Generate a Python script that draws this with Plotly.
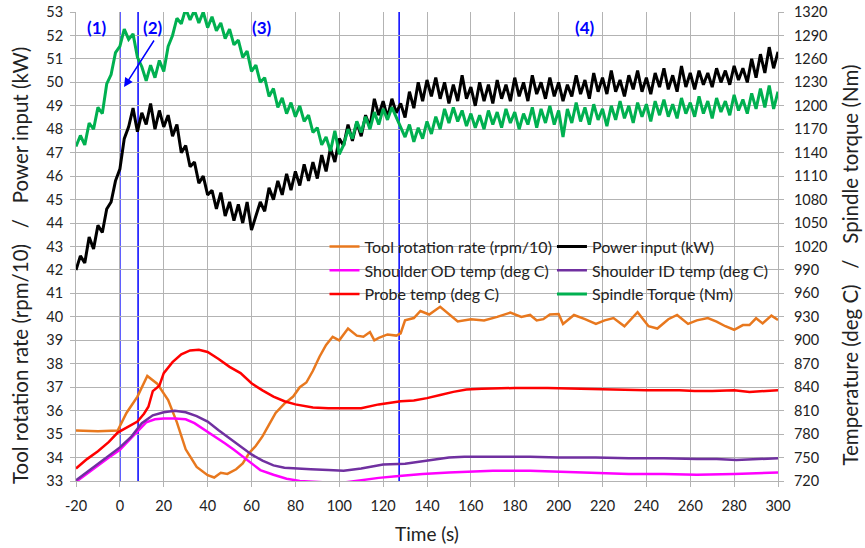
import plotly.graph_objects as go

# time base for the noisy (black / green) traces, every 2 s
t_noisy = list(range(-20, 301, 2))

power_kw = [
    42.0, 42.6, 42.3, 43.4, 42.9, 43.9, 43.6, 44.6, 44.9, 45.8,
    46.3, 47.6, 48.1, 48.9, 47.9, 48.7, 48.2, 49.1, 48.0, 48.8,
    48.1, 48.6, 47.7, 48.2, 47.0, 47.3, 46.4, 46.6, 45.7, 46.0,
    45.2, 45.4, 44.6, 45.3, 44.3, 44.9, 44.1, 44.8, 44.0, 44.9,
    43.7, 44.3, 44.9, 44.5, 45.5, 45.0, 45.8, 45.2, 46.1, 45.4,
    46.2, 45.6, 46.5, 45.8, 46.6, 45.9, 46.9, 46.2, 47.2, 46.6,
    47.6, 47.3, 48.2, 47.5, 48.3, 47.7, 48.6, 48.1, 49.3, 48.6,
    49.2, 48.5, 49.3, 48.7, 49.1, 48.5, 49.6, 48.9, 50.0, 49.2,
    50.1, 49.4, 50.2, 49.3, 50.0, 49.1, 49.9, 49.2, 50.3, 49.3,
    49.8, 49.0, 50.0, 49.2, 49.9, 49.1, 50.1, 49.3, 49.9, 49.2,
    50.2, 49.4, 50.0, 49.2, 50.3, 49.5, 50.0, 49.3, 50.2, 49.4,
    50.0, 49.2, 49.9, 49.4, 50.3, 49.5, 50.1, 49.3, 50.4, 49.6,
    50.2, 49.5, 50.5, 49.6, 50.1, 49.4, 50.3, 49.7, 50.5, 49.6,
    50.2, 49.5, 50.4, 49.8, 50.6, 49.7, 50.3, 49.6, 50.7, 49.8,
    50.4, 49.7, 50.5, 49.9, 50.4, 49.8, 50.6, 50.0, 50.5, 49.9,
    50.7, 50.1, 50.6, 50.0, 51.0, 50.2, 51.2, 50.4, 51.5, 50.6,
    51.3,
]

torque_nm = [
    1148, 1162, 1150, 1178, 1170, 1198, 1190, 1228, 1240, 1268,
    1276, 1298, 1285, 1292, 1262, 1250, 1232, 1252, 1236, 1258,
    1244, 1276, 1290, 1312, 1305, 1324, 1310, 1322, 1306, 1320,
    1300, 1314, 1296, 1306, 1286, 1298, 1278, 1284, 1262, 1270,
    1244, 1252, 1230, 1236, 1212, 1222, 1198, 1210, 1190, 1204,
    1186, 1200, 1180, 1188, 1166, 1172, 1150, 1160, 1142, 1168,
    1138, 1150, 1170, 1158, 1180, 1166, 1186, 1170, 1192, 1176,
    1196, 1182, 1198, 1186, 1172, 1160, 1176, 1154, 1172, 1158,
    1180, 1164, 1186, 1170, 1196, 1178, 1198, 1180, 1194, 1174,
    1190, 1172, 1188, 1170, 1194, 1176, 1192, 1172, 1196, 1178,
    1192, 1170, 1190, 1176, 1198, 1172, 1196, 1178, 1200, 1176,
    1194, 1160, 1196, 1178, 1204, 1180, 1198, 1176, 1202, 1182,
    1196, 1174, 1200, 1182, 1206, 1184, 1200, 1178, 1204, 1186,
    1202, 1180, 1206, 1188, 1208, 1186, 1202, 1184, 1210, 1190,
    1204, 1186, 1212, 1190, 1206, 1184, 1210, 1192, 1206, 1188,
    1214, 1194, 1208, 1190, 1216, 1196, 1222, 1198, 1226, 1196,
    1218,
]

t_rpm = [
    -20, -10, -1, 3, 8, 12.5, 17, 22, 26, 30,
    35, 40, 43, 46, 49, 53, 56, 59, 62, 65,
    68, 71, 75, 79, 82, 85, 88, 91, 94, 97,
    100, 104, 108, 111, 114, 116, 118, 122, 126, 128,
    130, 134, 137, 141, 146, 150, 154, 160, 166, 172,
    178, 183, 187, 190, 193, 196, 200, 202, 207, 212,
    217, 221, 225, 230, 236, 241, 245, 250, 254, 259,
    263, 268, 272, 276, 280, 284, 287, 290, 293, 297,
    300,
]
rpm_10 = [
    35.15, 35.12, 35.15, 35.9, 36.6, 37.48, 37.15, 36.45, 35.5, 34.35,
    33.6, 33.25, 33.15, 33.35, 33.3, 33.5, 33.75, 34.2, 34.5, 34.9,
    35.4, 35.9, 36.3, 36.6, 37.0, 37.2, 37.7, 38.3, 38.8, 39.15,
    39.0, 39.5, 39.2, 39.15, 39.35, 39.0, 39.1, 39.25, 39.2, 39.3,
    39.85, 39.95, 40.25, 40.1, 40.43, 40.1, 39.8, 39.9, 39.85, 40.0,
    40.18, 40.0, 40.08, 39.85, 39.9, 40.1, 40.12, 39.7, 40.08, 39.9,
    39.7, 39.85, 39.95, 39.6, 40.2, 39.6, 39.5, 39.9, 40.08, 39.7,
    39.85, 39.95, 39.8, 39.6, 39.45, 39.65, 39.65, 39.94, 39.72, 40.05,
    39.87,
]

t_probe = [
    -20, -15, -10, -5, -1, 4, 8, 11, 13, 15,
    18, 20, 24, 28, 32, 36, 40, 45, 50, 55,
    60, 65, 70, 75, 80, 88, 95, 103, 110, 118,
    128, 134, 140, 146, 152, 158, 165, 180, 195, 210,
    225, 240, 255, 262, 270, 280, 287, 294, 300,
]
probe_temp = [
    736, 748, 758, 770, 782, 790, 796, 806, 815, 835,
    842, 858, 872, 882, 887, 888, 885, 876, 866, 858,
    845, 836, 828, 822, 818, 814, 813, 813, 813, 818,
    822, 823, 826, 830, 834, 837, 838, 839, 839, 838,
    837, 836, 836, 835, 835, 836, 834, 835, 836,
]

t_id = [
    -20, -12, -5, 0, 5, 10, 15, 20, 25, 30,
    35, 40, 45, 50, 55, 60, 65, 70, 75, 80,
    87, 95, 102, 110, 120, 130, 137, 144, 150, 157,
    170, 187, 200, 217, 232, 248, 263, 272, 281, 290,
    300,
]
id_temp = [
    721, 738, 752, 763, 776, 794, 804, 808, 810, 808,
    803, 796, 785, 775, 764, 754, 746, 740, 737, 736,
    735, 734, 733, 736, 741, 742, 745, 748, 750, 751,
    751, 751, 750, 750, 749, 749, 748, 748, 747, 748,
    749,
]

t_od = [
    -20, -12, -5, 0, 4, 8, 12, 16, 20, 25,
    30, 34, 40, 44, 48, 52, 56, 60, 64, 70,
    76, 82, 88, 95, 102, 110, 118, 126, 138, 150,
    157, 170, 187, 200, 217, 232, 248, 263, 280, 300,
]
od_temp = [
    719, 736, 750, 760, 772, 783, 795, 799, 800, 800,
    799, 794, 783, 776, 768, 760, 751, 743, 734, 728,
    723, 720, 719, 718, 718, 721, 724, 726, 729, 731,
    732, 733, 733, 732, 730, 729, 729, 728, 729, 731,
]

x_ticks = list(range(-20, 301, 20))
x_tick_text = [str(v) for v in x_ticks]  # plain hyphen for "-20"

phase_lines = [0, 8.3, 127.3]
phase_labels = ["(1)", "(2)", "(3)", "(4)"]
phase_label_t = [-10.5, 15.2, 65, 212]

FONT = "Lato, 'Open Sans', sans-serif"
GRID = "#B3B3B3"
SP = "\u00a0" * 3

fig = go.Figure()

fig.add_trace(go.Scatter(x=t_rpm, y=rpm_10, mode="lines", name="Tool rotation rate (rpm/10)",
                         line=dict(color="#E8781E", width=2.5), legend="legend"))
fig.add_trace(go.Scatter(x=t_noisy, y=power_kw, mode="lines", name="Power input (kW)",
                         line=dict(color="black", width=3), legend="legend2"))
fig.add_trace(go.Scatter(x=t_od, y=od_temp, mode="lines", name="Shoulder OD temp (deg C)",
                         line=dict(color="#FF00FF", width=2.5), yaxis="y2", legend="legend"))
fig.add_trace(go.Scatter(x=t_id, y=id_temp, mode="lines", name="Shoulder ID temp (deg C)",
                         line=dict(color="#7030A0", width=2.5), yaxis="y2", legend="legend2"))
fig.add_trace(go.Scatter(x=t_probe, y=probe_temp, mode="lines", name="Probe temp (deg C)",
                         line=dict(color="#FF0000", width=2.5), yaxis="y2", legend="legend"))
fig.add_trace(go.Scatter(x=t_noisy, y=torque_nm, mode="lines", name="Spindle Torque (Nm)",
                         line=dict(color="#00B050", width=3), yaxis="y2", legend="legend2"))

for t in phase_lines:
    fig.add_shape(type="line", x0=t, x1=t, y0=0, y1=1, xref="x", yref="paper",
                  line=dict(color="#0000FF", width=1.5), layer="between")

for lab, t in zip(phase_labels, phase_label_t):
    fig.add_annotation(x=t, y=52.35, text="<b>" + lab + "</b>", showarrow=False,
                       font=dict(family=FONT, size=17, color="#0000FF"))

fig.add_annotation(x=1.9, y=49.8, ax=16, ay=51.85, xref="x", yref="y", axref="x", ayref="y",
                   text="", showarrow=True, arrowhead=2, arrowsize=1.2, arrowwidth=1.5,
                   arrowcolor="#0000FF")

# axis titles placed as rotated annotations (offset like the original chart)
fig.add_annotation(x=-0.08, y=0.46, xref="paper", yref="paper", showarrow=False, textangle=-90,
                   xanchor="center", yanchor="middle",
                   text="Tool rotation rate (rpm/10)" + SP + "/" + SP + "Power input (kW)",
                   font=dict(family=FONT, size=20.5, color="#222"))
fig.add_annotation(x=1.103, y=0.46, xref="paper", yref="paper", showarrow=False, textangle=-90,
                   xanchor="center", yanchor="middle",
                   text="Temperature (deg C)" + SP + "/" + SP + "Spindle torque (Nm)",
                   font=dict(family=FONT, size=20.5, color="#222"))

axis_common = dict(showgrid=True, gridcolor=GRID, gridwidth=1, showline=True, linecolor=GRID,
                   ticks="outside", ticklen=5, tickcolor=GRID, zeroline=False, automargin=False,
                   tickfont=dict(family=FONT, size=14.5, color="#222"))

fig.update_layout(
    width=865, height=548,
    margin=dict(l=76, r=87, t=12, b=67),
    paper_bgcolor="white", plot_bgcolor="white",
    font=dict(family=FONT, color="#222"),
    xaxis=dict(range=[-20, 300], tickvals=x_ticks, ticktext=x_tick_text, ticklabelstandoff=7,
               title=dict(text="Time (s)", font=dict(family=FONT, size=19), standoff=14),
               **axis_common),
    yaxis=dict(range=[33, 53], dtick=1, ticklabelstandoff=4, **axis_common),
    yaxis2=dict(range=[720, 1320], dtick=30, overlaying="y", side="right", ticklabelstandoff=7,
                **{**axis_common, "showgrid": False}),
    legend=dict(x=0.354, y=0.536, xanchor="left", yanchor="top", bgcolor="rgba(0,0,0,0)",
                font=dict(family=FONT, size=16), tracegroupgap=0),
    legend2=dict(x=0.678, y=0.536, xanchor="left", yanchor="top", bgcolor="rgba(0,0,0,0)",
                 font=dict(family=FONT, size=16), tracegroupgap=0),
)

fig.write_html("out.html", config={"displayModeBar": False},
               post_script="document.body.style.margin='0';")
